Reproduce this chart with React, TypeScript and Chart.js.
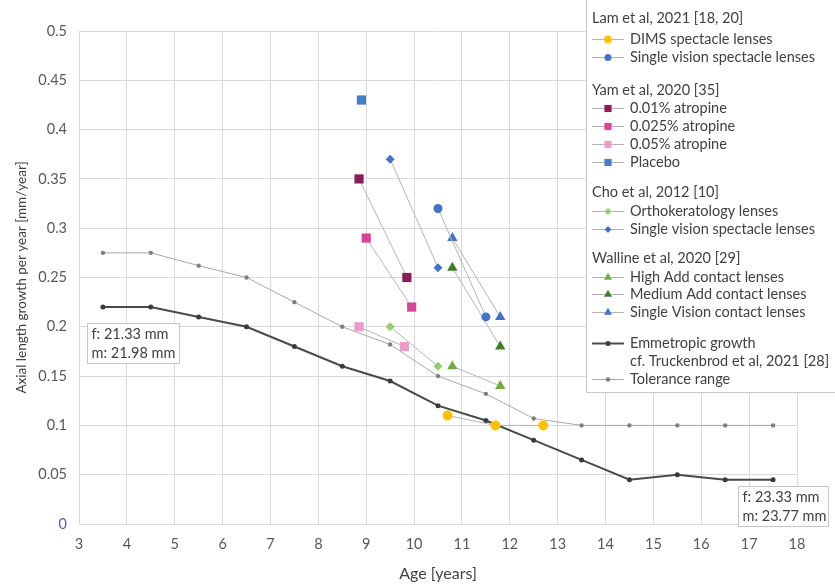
import React, { useEffect, useRef } from 'react';
import { Chart, registerables } from 'chart.js';

Chart.register(...registerables);

// ---------- DATA ----------
const refAges = [3.5, 4.5, 5.5, 6.5, 7.5, 8.5, 9.5, 10.5, 11.5, 12.5, 13.5, 14.5, 15.5, 16.5, 17.5];
const emmetropicGrowth = [0.22, 0.22, 0.21, 0.2, 0.18, 0.16, 0.145, 0.12, 0.105, 0.085, 0.065, 0.045, 0.05, 0.045, 0.045];
const toleranceGrowth = [0.275, 0.275, 0.262, 0.25, 0.225, 0.2, 0.182, 0.15, 0.132, 0.107, 0.1, 0.1, 0.1, 0.1, 0.1];

const dimsAges = [10.7, 11.7, 12.7];
const dimsGrowth = [0.11, 0.1, 0.1];
const lamSvAges = [10.5, 11.5];
const lamSvGrowth = [0.32, 0.21];

const atropine001Ages = [8.85, 9.85];
const atropine001Growth = [0.35, 0.25];
const atropine0025Ages = [9.0, 9.95];
const atropine0025Growth = [0.29, 0.22];
const atropine005Ages = [8.85, 9.8];
const atropine005Growth = [0.2, 0.18];
const placeboAges = [8.9];
const placeboGrowth = [0.43];

const orthoAges = [9.5, 10.5];
const orthoGrowth = [0.2, 0.16];
const choSvAges = [9.5, 10.5];
const choSvGrowth = [0.37, 0.26];

const highAddAges = [10.8, 11.8];
const highAddGrowth = [0.16, 0.14];
const medAddAges = [10.8, 11.8];
const medAddGrowth = [0.26, 0.18];
const svClAges = [10.8, 11.8];
const svClGrowth = [0.29, 0.21];

const xTicks = { min: 3, max: 18, step: 1 };
const yTicks = { min: 0, max: 0.5, step: 0.05 };

const boxNotes = [
  { x: 3.17, y: 0.204, lines: ['f: 21.33 mm', 'm: 21.98 mm'] },
  { x: 16.77, y: 0.0385, lines: ['f: 23.33 mm', 'm: 23.77 mm'] },
];

// ---------- STYLE ----------
const FONT = 'Lato, "Open Sans", sans-serif';
const LINK = '#B4B4B4';
const TEXT = '#404040';
const TXT_SIZE = 14.5;

const toPts = (xs: number[], ys: number[]) => xs.map((x, i) => ({ x, y: ys[i] }));

type DS = { label: string; xs: number[]; ys: number[]; color: string; shape: string; r: number; line: string; lw: number };

const series: DS[] = [
  { label: 'DIMS spectacle lenses', xs: dimsAges, ys: dimsGrowth, color: '#FFC000', shape: 'circle', r: 5, line: LINK, lw: 1 },
  { label: 'Single vision spectacle lenses', xs: lamSvAges, ys: lamSvGrowth, color: '#4472C4', shape: 'circle', r: 4.5, line: LINK, lw: 1 },
  { label: '0.01% atropine', xs: atropine001Ages, ys: atropine001Growth, color: '#8C1D5C', shape: 'rect', r: 6.5, line: LINK, lw: 1 },
  { label: '0.025% atropine', xs: atropine0025Ages, ys: atropine0025Growth, color: '#D4469A', shape: 'rect', r: 6.5, line: LINK, lw: 1 },
  { label: '0.05% atropine', xs: atropine005Ages, ys: atropine005Growth, color: '#EA9CCB', shape: 'rect', r: 6.5, line: LINK, lw: 1 },
  { label: 'Placebo', xs: placeboAges, ys: placeboGrowth, color: '#4A7BC9', shape: 'rect', r: 6.5, line: LINK, lw: 1 },
  { label: 'Orthokeratology lenses', xs: orthoAges, ys: orthoGrowth, color: '#93CE6E', shape: 'rectRot', r: 4.5, line: LINK, lw: 1 },
  { label: 'Single vision spectacle lenses', xs: choSvAges, ys: choSvGrowth, color: '#4472C4', shape: 'rectRot', r: 4.5, line: LINK, lw: 1 },
  { label: 'High Add contact lenses', xs: highAddAges, ys: highAddGrowth, color: '#70AD47', shape: 'triangle', r: 6, line: LINK, lw: 1 },
  { label: 'Medium Add contact lenses', xs: medAddAges, ys: medAddGrowth, color: '#3F7D2B', shape: 'triangle', r: 6, line: LINK, lw: 1 },
  { label: 'Single Vision contact lenses', xs: svClAges, ys: svClGrowth, color: '#4472C4', shape: 'triangle', r: 6, line: LINK, lw: 1 },
  { label: 'Emmetropic growth', xs: refAges, ys: emmetropicGrowth, color: '#3A3A3A', shape: 'circle', r: 2.5, line: '#4A4A4A', lw: 2 },
  { label: 'Tolerance range', xs: refAges, ys: toleranceGrowth, color: '#7F7F7F', shape: 'circle', r: 2.2, line: '#A8A8A8', lw: 1 },
];

const legendRows: { kind: 'title' | 'entry'; text: string[]; idx?: number; y: number }[] = [
  { kind: 'title', text: ['Lam et al, 2021 [18, 20]'], y: 18 },
  { kind: 'entry', text: ['DIMS spectacle lenses'], idx: 0, y: 39 },
  { kind: 'entry', text: ['Single vision spectacle lenses'], idx: 1, y: 57 },
  { kind: 'title', text: ['Yam et al, 2020 [35]'], y: 90 },
  { kind: 'entry', text: ['0.01% atropine'], idx: 2, y: 108 },
  { kind: 'entry', text: ['0.025% atropine'], idx: 3, y: 126 },
  { kind: 'entry', text: ['0.05% atropine'], idx: 4, y: 144 },
  { kind: 'entry', text: ['Placebo'], idx: 5, y: 162 },
  { kind: 'title', text: ['Cho et al, 2012 [10]'], y: 192 },
  { kind: 'entry', text: ['Orthokeratology lenses'], idx: 6, y: 211 },
  { kind: 'entry', text: ['Single vision spectacle lenses'], idx: 7, y: 229 },
  { kind: 'title', text: ['Walline et al, 2020 [29]'], y: 258 },
  { kind: 'entry', text: ['High Add contact lenses'], idx: 8, y: 277 },
  { kind: 'entry', text: ['Medium Add contact lenses'], idx: 9, y: 294 },
  { kind: 'entry', text: ['Single Vision contact lenses'], idx: 10, y: 312 },
  { kind: 'entry', text: ['Emmetropic growth', 'cf. Truckenbrod et al, 2021 [28]'], idx: 11, y: 343 },
  { kind: 'entry', text: ['Tolerance range'], idx: 12, y: 379 },
];

function drawShape(ctx: CanvasRenderingContext2D, shape: string, x: number, y: number, r: number, color: string) {
  ctx.save();
  ctx.fillStyle = color;
  ctx.beginPath();
  if (shape === 'circle') {
    ctx.arc(x, y, r, 0, Math.PI * 2);
  } else if (shape === 'rect') {
    const s = Math.SQRT1_2 * r;
    ctx.rect(x - s, y - s, 2 * s, 2 * s);
  } else if (shape === 'rectRot') {
    ctx.moveTo(x, y - r);
    ctx.lineTo(x + r, y);
    ctx.lineTo(x, y + r);
    ctx.lineTo(x - r, y);
    ctx.closePath();
  } else if (shape === 'triangle') {
    ctx.moveTo(x, y - r);
    ctx.lineTo(x + r * 0.866, y + r * 0.5);
    ctx.lineTo(x - r * 0.866, y + r * 0.5);
    ctx.closePath();
  }
  ctx.fill();
  ctx.restore();
}

const overlayPlugin = {
  id: 'overlay',
  afterDraw(chart: any) {
    const ctx: CanvasRenderingContext2D = chart.ctx;
    const xs = chart.scales.x;
    const ys = chart.scales.y;
    ctx.save();
    // annotation boxes
    ctx.font = `${TXT_SIZE}px ${FONT}`;
    ctx.textBaseline = 'middle';
    ctx.textAlign = 'left';
    boxNotes.forEach((b, k) => {
      const left = Math.round(xs.getPixelForValue(b.x)) + 0.5;
      const top = Math.round(ys.getPixelForValue(b.y)) + 0.5;
      const w = k === 0 ? 92 : 90;
      const h = 40;
      ctx.fillStyle = '#ffffff';
      ctx.fillRect(left, top, w, h);
      ctx.strokeStyle = '#C6C6C6';
      ctx.lineWidth = 1;
      ctx.strokeRect(left, top, w, h);
      ctx.fillStyle = TEXT;
      b.lines.forEach((t, i) => ctx.fillText(t, left + 4, top + 11 + i * 19));
    });

    // legend
    const lx = 586.5;
    ctx.fillStyle = '#ffffff';
    ctx.fillRect(lx, -2, 300, 395);
    ctx.strokeStyle = '#C8C8C8';
    ctx.lineWidth = 1;
    ctx.strokeRect(lx, -2, 300, 394.5);
    ctx.font = `${TXT_SIZE}px ${FONT}`;
    legendRows.forEach((row) => {
      if (row.kind === 'title') {
        ctx.fillStyle = TEXT;
        ctx.fillText(row.text[0], 592, row.y);
      } else {
        const s = series[row.idx as number];
        ctx.strokeStyle = s.line;
        ctx.lineWidth = s.lw;
        ctx.beginPath();
        ctx.moveTo(592, row.y + 0.5);
        ctx.lineTo(624, row.y + 0.5);
        ctx.stroke();
        const r = s.shape === 'circle' && s.r < 3 ? s.r : s.r * 0.78;
        drawShape(ctx, s.shape, 608, row.y + 0.5, r, s.color);
        ctx.fillStyle = TEXT;
        row.text.forEach((t, i) => ctx.fillText(t, 630, row.y + i * 18));
      }
    });
    ctx.restore();
  },
};

export default function App() {
  const ref = useRef<HTMLCanvasElement | null>(null);
  useEffect(() => {
    document.body.style.margin = '0';
    const canvas = ref.current;
    if (!canvas) return;
    const chart = new Chart(canvas, {
      type: 'line',
      data: {
        datasets: series.map((s) => ({
          label: s.label,
          data: toPts(s.xs, s.ys),
          borderColor: s.line,
          borderWidth: s.lw,
          backgroundColor: s.color,
          pointBackgroundColor: s.color,
          pointBorderColor: s.color,
          pointBorderWidth: 0,
          pointStyle: s.shape as any,
          pointRadius: s.r,
          showLine: true,
          tension: 0,
          fill: false,
        })),
      },
      options: {
        animation: false,
        responsive: false,
        maintainAspectRatio: false,
        devicePixelRatio: 1,
        layout: { padding: { left: 0, top: 31, right: 38, bottom: 0 } },
        plugins: {
          legend: { display: false },
          tooltip: { enabled: false },
        },
        scales: {
          x: {
            type: 'linear',
            min: xTicks.min,
            max: xTicks.max,
            ticks: {
              stepSize: xTicks.step,
              color: '#595959',
              font: { family: FONT, size: TXT_SIZE },
              padding: 12,
              maxRotation: 0,
            },
            grid: { color: '#D9D9D9', drawTicks: false },
            border: { color: '#D9D9D9' },
            title: {
              display: true,
              text: 'Age [years]',
              color: TEXT,
              font: { family: FONT, size: 16 },
              padding: { top: 2, bottom: 2 },
            },
            afterFit: (scale: any) => {
              scale.height = 61;
            },
          },
          y: {
            type: 'linear',
            min: yTicks.min,
            max: yTicks.max,
            ticks: {
              stepSize: yTicks.step,
              color: (c: any) => (c.tick && c.tick.value === 0 ? '#5C5CAA' : '#595959'),
              font: { family: FONT, size: TXT_SIZE },
              padding: 12,
              callback: (v: any) => String(Number(Number(v).toFixed(2))),
            },
            grid: { color: '#D9D9D9', drawTicks: false },
            border: { color: '#D9D9D9' },
            title: {
              display: true,
              text: 'Axial length growth per year [mm/year]',
              color: TEXT,
              font: { family: FONT, size: 13.5 },
              padding: { top: 14, bottom: 14 },
            },
            afterFit: (scale: any) => {
              scale.width = 79;
            },
          },
        },
      },
      plugins: [overlayPlugin],
    });
    return () => chart.destroy();
  }, []);
  return (
    <div style={{ width: 835, height: 585, position: 'relative' }}>
      <canvas ref={ref} width={835} height={585} style={{ width: 835, height: 585, display: 'block' }} />
    </div>
  );
}
